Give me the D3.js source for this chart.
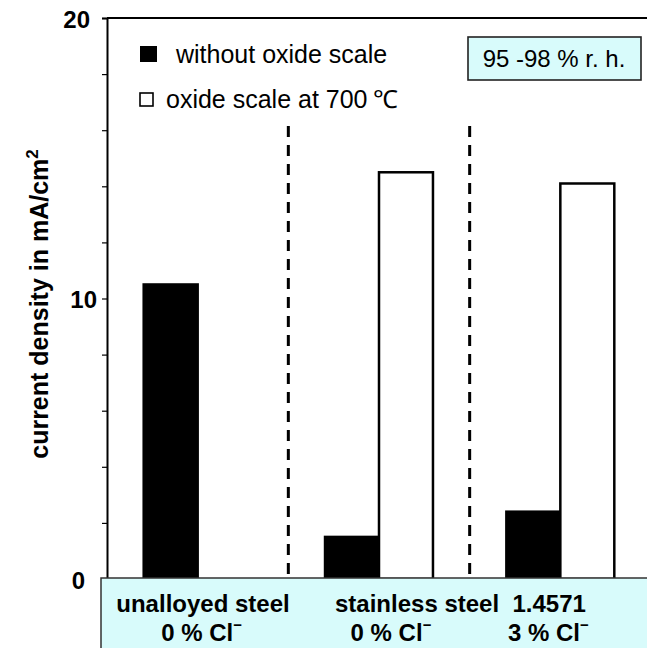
<!DOCTYPE html>
<html>
<head>
<meta charset="utf-8">
<script src="https://cdn.jsdelivr.net/npm/d3@7"></script>
<style>
  body { margin: 0; background: #fff; }
  svg text { font-family: "Liberation Sans", Arial, sans-serif; }
</style>
</head>
<body>
<div class="chart"></div>
<script>
// data
const groups = ['unalloyed', 'stainless0', 'stainless3']
const series = ['without oxide scale', 'oxide scale at 700 °C']
const withoutScale = [10.5, 1.5, 2.4]
const withScale = [null, 14.5, 14.1]
const yTicks = [0, 10, 20]
const groupLabels = [['unalloyed steel', '0 % Cl'], [null, '0 % Cl'], [null, '3 % Cl']]

const width = 647
const height = 648

let svg = d3.select('.chart')
    .append('svg')
    .attr('width', width)
    .attr('height', height)

let y = d3.scaleLinear().domain([0, 20]).range([579, 18])
let x = d3.scaleBand().domain(groups).range([107, 651])
let xs = d3.scaleBand().domain(series).range([0, x.bandwidth()]).paddingInner(0).paddingOuter(0.68)

// top frame line
svg.append('line')
    .attr('x1', 107).attr('x2', width)
    .attr('y1', y(20)).attr('y2', y(20))
    .attr('stroke', '#000').attr('stroke-width', 2)

// y axis with minor ticks every 2
let yAxis = svg.append('g')
    .attr('transform', 'translate(107,0)')
    .call(d3.axisLeft(y).tickValues(d3.range(0, 21, 2)).tickSize(5).tickFormat(d => yTicks.includes(d) ? d : ''))
yAxis.select('.domain').attr('stroke-width', 2)
yAxis.selectAll('.tick line').attr('stroke-width', 1.2)
yAxis.selectAll('text')
    .attr('font-size', 24)
    .attr('font-weight', 'bold')
    .attr('fill', '#000')
    .attr('dy', '0.38em')
    .attr('x', d => d == 20 ? -17 : (d == 0 ? -22 : -10))

svg.append('text')
    .attr('transform', 'translate(48,304) rotate(-90)')
    .attr('text-anchor', 'middle')
    .attr('font-size', 25)
    .attr('font-weight', 'bold')
    .text('current density in mA/cm')
    .append('tspan')
    .attr('font-size', 17)
    .attr('dy', -10)
    .text('2')

// dashed separators between groups
svg.selectAll('.sep')
    .data(groups.slice(1))
    .enter()
    .append('line')
    .attr('class', 'sep')
    .attr('x1', d => x(d)).attr('x2', d => x(d))
    .attr('y1', 126).attr('y2', y(0))
    .attr('stroke', '#000')
    .attr('stroke-width', 3)
    .attr('stroke-dasharray', '11,8')

// bars
let barData = []
groups.forEach((g, i) => {
    barData.push({group: g, s: series[0], v: withoutScale[i]})
    barData.push({group: g, s: series[1], v: withScale[i]})
})

svg.selectAll('.bar')
    .data(barData.filter(d => d.v != null))
    .enter()
    .append('rect')
    .attr('class', 'bar')
    .attr('x', d => x(d.group) + xs(d.s))
    .attr('width', xs.bandwidth())
    .attr('y', d => y(d.v))
    .attr('height', d => y(0) - y(d.v))
    .attr('fill', d => d.s == series[0] ? '#000' : '#fff')
    .attr('stroke', '#000')
    .attr('stroke-width', 2.5)

// legend
let legend = svg.append('g')
legend.append('rect')
    .attr('x', 140).attr('y', 46).attr('width', 17).attr('height', 16)
    .attr('fill', '#000')
legend.append('text')
    .attr('x', 176).attr('y', 63)
    .attr('font-size', 25)
    .text(series[0])
legend.append('rect')
    .attr('x', 140).attr('y', 93).attr('width', 13).attr('height', 13)
    .attr('fill', '#fff').attr('stroke', '#000').attr('stroke-width', 1.6)
legend.append('text')
    .attr('x', 166).attr('y', 108)
    .attr('font-size', 25)
    .text('oxide scale at 700\u2009\u2103')

// humidity box
svg.append('rect')
    .attr('x', 468).attr('y', 37).attr('width', 173).attr('height', 43)
    .attr('fill', '#d8fbfb').attr('stroke', '#222').attr('stroke-width', 1.6)
svg.append('text')
    .attr('x', 554).attr('y', 67)
    .attr('text-anchor', 'middle')
    .attr('font-size', 24)
    .text('95 -98 % r. h.')

// bottom label panel
svg.append('rect')
    .attr('x', 101).attr('y', 578).attr('width', 560).attr('height', 80)
    .attr('fill', '#d8fbfb').attr('stroke', '#333').attr('stroke-width', 1.5)

svg.append('text')
    .attr('x', 203).attr('y', 612)
    .attr('text-anchor', 'middle')
    .attr('font-size', 24).attr('font-weight', 'bold')
    .text(groupLabels[0][0])
svg.append('text')
    .attr('x', 335).attr('y', 612)
    .attr('font-size', 24).attr('font-weight', 'bold')
    .attr('xml:space', 'preserve')
    .text('stainless steel  1.4571')

svg.selectAll('.cl')
    .data(groups)
    .enter()
    .append('text')
    .attr('class', 'cl')
    .attr('x', (d, i) => x(d) + x.bandwidth() / 2 + [4, 12, -12][i])
    .attr('y', 641)
    .attr('text-anchor', 'middle')
    .attr('font-size', 24).attr('font-weight', 'bold')
    .text((d, i) => groupLabels[i][1])
    .append('tspan')
    .attr('font-size', 15)
    .attr('dy', -11)
    .text('\u2212')
</script>
</body>
</html>
